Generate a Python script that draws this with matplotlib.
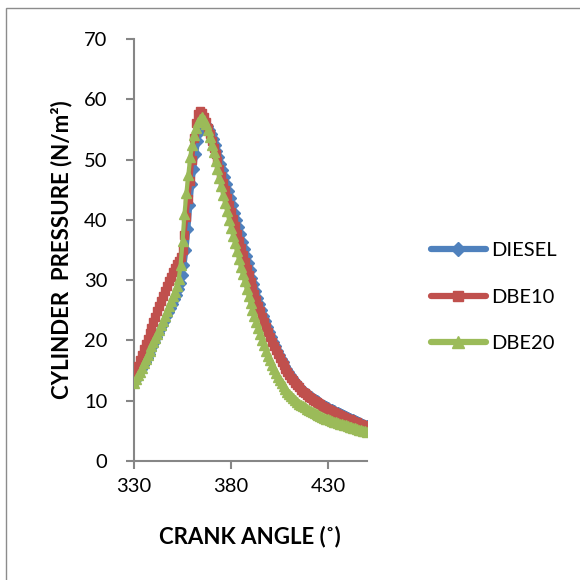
import matplotlib
matplotlib.use("Agg")
import matplotlib.pyplot as plt
from matplotlib.patches import Rectangle
from matplotlib.lines import Line2D

plt.rcParams['font.family'] = ['Lato', 'DejaVu Sans']

crank_angle = list(range(330, 451))

diesel = [
    13.0, 13.5, 14.1, 14.7, 15.3, 15.9, 16.5, 17.1, 17.7, 18.4,
    19.1, 19.8, 20.5, 21.2, 21.9, 22.6, 23.3, 24.0, 24.7, 25.4,
    26.1, 26.8, 27.6, 28.5, 29.5, 30.8, 32.5, 35.0, 38.5, 42.5,
    46.0, 48.5, 51.0, 53.0, 54.5, 55.5, 56.0, 55.9, 55.5, 54.9,
    54.2, 53.4, 52.5, 51.5, 50.4, 49.3, 48.2, 47.1, 46.0, 44.8,
    43.6, 42.4, 41.2, 40.0, 38.8, 37.6, 36.4, 35.2, 34.0, 32.8,
    31.6, 30.4, 29.3, 28.2, 27.1, 26.1, 25.1, 24.1, 23.2, 22.3,
    21.4, 20.6, 19.8, 19.0, 18.3, 17.6, 17.0, 16.4, 15.8, 15.2,
    14.7, 14.2, 13.7, 13.3, 12.9, 12.5, 12.1, 11.8, 11.5, 11.2,
    10.9, 10.7, 10.5, 10.3, 10.1, 9.9, 9.7, 9.5, 9.3, 9.1,
    8.9, 8.7, 8.6, 8.4, 8.2, 8.1, 7.9, 7.8, 7.6, 7.5,
    7.3, 7.2, 7.0, 6.9, 6.8, 6.6, 6.5, 6.3, 6.2, 6.0,
    5.9,
]

dbe10 = [
    14.0, 14.9, 15.8, 16.7, 17.6, 18.5, 19.4, 20.3, 21.2, 22.1,
    23.0, 23.9, 24.8, 25.7, 26.6, 27.4, 28.2, 29.0, 29.8, 30.6,
    31.3, 32.0, 32.6, 33.2, 33.8, 35.0, 37.5, 40.5, 43.5, 46.5,
    50.0, 53.5, 56.0, 57.5, 58.0, 57.7, 57.1, 56.3, 55.3, 54.2,
    53.1, 52.0, 50.9, 49.7, 48.5, 47.3, 46.1, 44.9, 43.7, 42.5,
    41.3, 40.1, 38.9, 37.7, 36.5, 35.3, 34.1, 33.0, 31.9, 30.8,
    29.7, 28.7, 27.7, 26.7, 25.7, 24.8, 23.9, 23.0, 22.2, 21.4,
    20.6, 19.8, 19.1, 18.4, 17.7, 17.1, 16.5, 15.9, 15.3, 14.8,
    14.3, 13.8, 13.4, 13.0, 12.6, 12.2, 11.8, 11.5, 11.2, 10.9,
    10.6, 10.4, 10.2, 10.0, 9.8, 9.6, 9.4, 9.2, 9.0, 8.8,
    8.6, 8.4, 8.3, 8.1, 7.9, 7.8, 7.6, 7.5, 7.3, 7.2,
    7.0, 6.9, 6.8, 6.6, 6.5, 6.4, 6.2, 6.1, 5.9, 5.7,
    5.5,
]

dbe20 = [
    13.0, 13.6, 14.2, 14.8, 15.5, 16.2, 16.9, 17.6, 18.3, 19.0,
    19.7, 20.4, 21.1, 21.8, 22.5, 23.3, 24.1, 24.9, 25.7, 26.5,
    27.3, 28.1, 29.0, 30.2, 32.5, 36.5, 41.0, 44.5, 47.5, 50.5,
    52.5, 54.0, 55.2, 56.2, 56.8, 57.0, 56.6, 55.9, 54.9, 53.8,
    52.5, 51.2, 49.8, 48.4, 47.0, 45.6, 44.2, 42.8, 41.4, 40.0,
    38.7, 37.4, 36.1, 34.8, 33.5, 32.2, 31.0, 29.8, 28.6, 27.4,
    26.2, 25.1, 24.0, 23.0, 22.0, 21.0, 20.1, 19.2, 18.3, 17.5,
    16.7, 16.0, 15.3, 14.6, 14.0, 13.4, 12.9, 12.4, 11.9, 11.5,
    11.1, 10.7, 10.4, 10.1, 9.8, 9.5, 9.3, 9.1, 8.9, 8.7,
    8.5, 8.3, 8.1, 7.9, 7.8, 7.6, 7.5, 7.3, 7.2, 7.0,
    6.9, 6.8, 6.7, 6.5, 6.4, 6.3, 6.2, 6.1, 6.0, 5.9,
    5.8, 5.7, 5.6, 5.5, 5.4, 5.3, 5.2, 5.1, 5.0, 4.9,
    4.8,
]

series_names = ["DIESEL", "DBE10", "DBE20"]
x_ticks = [330, 380, 430]
y_ticks = [0, 10, 20, 30, 40, 50, 60, 70]

colors = ["#4F81BD", "#C0504D", "#9BBB59"]
markers = ["D", "s", "^"]
msizes = [5.5, 5.5, 6.5]

fig = plt.figure(figsize=(5.8, 5.8), dpi=100)
# outer chart border
fig.patches.append(Rectangle((6 / 580, -0.1), 1.2, 1 - 8 / 580 + 0.1,
                             transform=fig.transFigure, fill=False,
                             edgecolor="#8C8C8C", linewidth=1.0))

ax = fig.add_axes([134 / 580, 1 - 461 / 580, (367 - 134) / 580, (461 - 39) / 580])

handles = []
for vals, name, c, m, ms in zip([diesel, dbe10, dbe20], series_names, colors, markers, msizes):
    ax.plot(crank_angle, vals, color=c, linewidth=3.0, marker=m, markersize=ms,
            markeredgecolor=c, markerfacecolor=c, solid_capstyle="round", zorder=3)
    handles.append(Line2D([0], [0], color=c, linewidth=4.5, marker=m, markersize=ms + 2,
                          markeredgecolor=c, markerfacecolor=c, solid_capstyle="round"))

ax.set_xlim(330, 450)
ax.set_ylim(0, 70)
ax.set_xticks(x_ticks)
ax.set_yticks(y_ticks)
for s in ["top", "right"]:
    ax.spines[s].set_visible(False)
for s in ["left", "bottom"]:
    ax.spines[s].set_color("#868686")
    ax.spines[s].set_linewidth(1.5)
ax.tick_params(axis="both", direction="out", length=6, width=1.5, color="#868686",
               labelsize=14.5, labelcolor="black", pad=6)
ax.tick_params(axis="y", pad=13)

fig.text(250 / 580, 1 - 537 / 580, "CRANK ANGLE (˚)", ha="center", va="center",
         fontsize=16, fontweight="bold")
fig.text(62 / 580, 1 - 250 / 580, "CYLINDER  PRESSURE (N/m²)", ha="center", va="center",
         rotation=90, fontsize=16, fontweight="bold")

fig.legend(handles, series_names, loc="center left",
           bbox_to_anchor=(413 / 580, 1 - 297 / 580), frameon=False,
           fontsize=14.5, handlelength=2.7, labelspacing=1.45, handletextpad=0.3)

fig.savefig("out.png", dpi=100)
